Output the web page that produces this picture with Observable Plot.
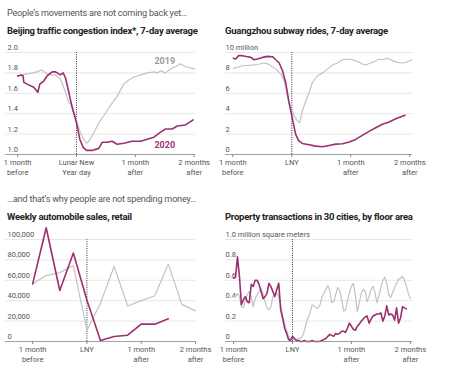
<!DOCTYPE html>
<html><head><meta charset="utf-8">
<script src="https://cdn.jsdelivr.net/npm/d3@7"></script>
<script src="https://cdn.jsdelivr.net/npm/@observablehq/plot@0.6"></script>
<style>
body{margin:0;background:#fff;font-family:Roboto,sans-serif;}
#wrap{position:relative;width:450px;height:373px;overflow:hidden;}
.txt{position:absolute;white-space:nowrap;line-height:1;}
.hdr{font-size:9.1px;color:#555;letter-spacing:-0.2px;}
.ttl{font-size:9.5px;font-weight:bold;color:#222;letter-spacing:-0.25px;}
.pan{position:absolute;}
.pan svg{overflow:visible;}
</style></head><body><div id="wrap"></div>
<script>
// ---------- text ----------
const headers = ["People\u2019s movements are not coming back yet\u2026", "\u2026and that\u2019s why people are not spending money\u2026"];
const titles = ["Beijing traffic congestion index*, 7-day average", "Guangzhou subway rides, 7-day average", "Weekly automobile sales, retail", "Property transactions in 30 cities, by floor area"];
const xLabelsLNYLong = ["1 month\nbefore", "Lunar New\nYear day", "1 month\nafter", "2 months\nafter"];
const xLabelsLNY = ["1 month\nbefore", "LNY", "1 month\nafter", "2 months\nafter"];
const dayTicks = [-30, 0, 30, 60];
const weekTicks = [-4, 0, 4, 8];

// ---------- Beijing traffic congestion index (days from LNY) ----------
const bjDays2019 = [-30,-25.2,-21.8,-17.5,-15.8,-13.3,-10.7,-8.2,-5.6,-3.9,-2.2,0,2,3.7,5.1,6.3,8.8,11.4,13.9,17.3,20.7,24.1,26.7,29.3,32.7,36.1,39.5,41.2,42.9,45.4,48,50.5,53.1,55.6,60.4];
const bjVals2019 = [1.77,1.79,1.80,1.83,1.80,1.78,1.78,1.74,1.61,1.51,1.48,1.34,1.21,1.15,1.11,1.13,1.21,1.31,1.38,1.48,1.57,1.69,1.73,1.76,1.78,1.80,1.81,1.80,1.82,1.80,1.84,1.86,1.89,1.86,1.84];
const bjDays2020 = [-30,-28.2,-27.2,-26.9,-25.2,-21.8,-19.7,-18.7,-16.7,-15,-12.4,-10.7,-9,-8.2,-6.8,-5.6,-3.9,-2.2,0,1.7,3.4,5.1,8,11.4,13.1,15.6,18.2,19.9,20.7,24.1,28.4,32.7,36.1,39.5,42.9,45.4,48.8,51.4,55.6,59.5];
const bjVals2020 = [1.77,1.78,1.77,1.71,1.69,1.66,1.61,1.69,1.72,1.77,1.81,1.81,1.79,1.78,1.80,1.75,1.61,1.46,1.31,1.15,1.07,1.04,1.04,1.06,1.12,1.12,1.13,1.11,1.10,1.11,1.13,1.13,1.15,1.17,1.22,1.25,1.25,1.28,1.29,1.34];
const bjYTicks = [1.0, 1.2, 1.4, 1.6, 1.8, 2.0];
const bjYearLabels = [{x: 45, y: 1.92, t: "2019", year: 2019}, {x: 45, y: 1.09, t: "2020", year: 2020}];

// ---------- Guangzhou subway rides, millions ----------
const gzDays2019 = [-29.7,-25.1,-20,-16.6,-14.1,-11.5,-8.1,-5.6,-3.9,-2.2,-1.4,0,1.2,2.9,4.1,5.4,7.1,8.8,10.5,13.1,15.6,18.1,20.7,23.2,25.8,29.2,32.5,35.9,37.6,40.2,41.9,44.4,46.1,48.6,51.2,53.7,57.1,58.8,61];
const gzVals2019 = [8.44,8.70,8.77,8.87,8.97,8.83,8.37,7.88,7.22,5.75,4.93,4.43,3.78,3.28,3.12,4.27,5.25,6.08,7.06,7.72,7.98,8.37,8.77,8.97,9.29,9.36,9.20,8.87,8.77,8.97,9.10,9.36,9.29,9.43,9.20,9.03,8.97,9.10,9.29];
const gzDays2020 = [-29.7,-28.5,-27.1,-25.1,-22.5,-20.8,-19.2,-17.5,-14.9,-12.4,-9.8,-8.1,-6.4,-4.7,-3.1,-1.7,-0.5,0.7,2,3.4,5.4,8.8,12.2,15.6,19,22.4,25.8,29.2,32.5,35.9,39.3,42.7,46.1,49.5,52.9,57.6];
const gzVals2020 = [9.43,9.36,9.69,9.69,9.59,9.52,9.29,9.36,9.52,9.62,9.59,9.29,8.97,8.21,7.06,5.42,4.27,3.12,1.97,1.38,1.08,0.95,0.82,0.76,0.89,1.02,1.05,1.22,1.48,1.87,2.27,2.63,2.96,3.19,3.51,3.84];
const gzYTicks = [0, 2, 4, 6, 8, 10];

// ---------- Weekly automobile sales (weeks from LNY) ----------
const carWeeks2019 = [-4,-3,-2,-1,0,1,2,3,4,5,6,7,8];
const carVals2019 = [56500,64600,67500,74500,11000,37600,73600,34800,40100,44900,75900,36400,30000];
const carWeeks2020 = [-4,-3,-2,-1,0,1,2,3,4,5,6];
const carVals2020 = [56500,111500,50000,86700,40500,1000,4900,6200,17000,17000,22200];
const carYTicks = [0, 20000, 40000, 60000, 80000, 100000];

// ---------- Property transactions, million sq m (daily from LNY) ----------
const propStartDay = -30;
const propVals2019 = [0.44,0.44,0.47,0.44,0.34,0.33,0.41,0.46,0.49,0.44,0.34,0.42,0.46,0.49,0.52,0.47,0.39,0.33,0.31,0.34,0.44,0.46,0.47,0.44,0.36,0.25,0.18,0.11,0.05,0.02,
  0.02,0.02,0.02,0.03,0.03,0.05,0.10,0.18,0.24,0.28,0.36,0.35,0.33,0.33,0.36,0.44,0.47,0.51,0.55,0.50,0.38,0.39,0.46,0.53,0.50,0.42,0.30,0.31,0.40,0.48,0.54,0.57,0.46,0.29,0.38,0.47,0.51,0.49,0.39,0.44,0.51,0.54,0.48,0.38,0.45,0.53,0.60,0.63,0.57,0.46,0.43,0.48,0.53,0.57,0.61,0.62,0.64,0.60,0.54,0.47,0.42];
const propVals2020 = [0.62,0.63,0.83,0.64,0.36,0.41,0.44,0.39,0.38,0.56,0.54,0.60,0.60,0.56,0.49,0.42,0.44,0.47,0.57,0.54,0.49,0.44,0.51,0.57,0.31,0.23,0.13,0.08,0.02,0.01,
  0.05,0.03,0.01,0.01,0.0,0.0,0.01,0.0,0.0,0.0,0.01,0.0,0.0,0.0,0.0,0.01,0.02,0.03,0.05,0.07,0.06,0.05,0.08,0.07,0.08,0.10,0.10,0.09,0.13,0.18,0.15,0.12,0.11,0.15,0.17,0.20,0.22,0.24,0.25,0.18,0.22,0.25,0.26,0.27,0.27,0.28,0.20,0.25,0.35,0.26,0.27,0.26,0.21,0.33,0.18,0.23,0.34,0.33,0.32];
const propYTicks = [0, 0.2, 0.4, 0.6, 0.8, 1.0];

// ---------- styles ----------
const C2019 = "#c3c3c3";
const C2020 = "#9c2f6f";

const wrap = document.getElementById("wrap");
function addText(cls, text, left, top) {
  const d = document.createElement("div");
  d.className = "txt " + cls;
  d.textContent = text;
  d.style.left = left + "px";
  d.style.top = top + "px";
  wrap.appendChild(d);
}
addText("hdr", headers[0], 7, 9);
addText("ttl", titles[0], 7, 26);
addText("ttl", titles[1], 225, 26);
addText("hdr", headers[1], 7, 195);
addText("ttl", titles[2], 7, 212);
addText("ttl", titles[3], 225, 212);

function zip(xs, ys, year) { return xs.map((x, i) => ({x, y: ys[i], year})); }

function panel({left, top, width, marginLeft, marginRight, xDomain, xTicks, xLabels, yDomain, yTicks, yFmt, s2019, s2020, labelDx, extra = []}) {
  const xLab = new Map(xTicks.map((t, i) => [t, xLabels[i]]));
  const chart = Plot.plot({
    width, height: 140,
    marginTop: 12, marginBottom: 26, marginLeft, marginRight,
    style: {fontFamily: "Roboto, sans-serif", fontSize: "7.5px", background: "transparent", overflow: "visible"},
    x: {domain: xDomain, axis: null, label: null},
    y: {domain: yDomain, axis: null, label: null},
    marks: [
      Plot.gridY(yTicks.slice(1), {stroke: "#dcdcdc", strokeOpacity: 1, strokeWidth: 0.7}),
      Plot.axisY(yTicks, {anchor: "left", label: null, tickSize: 0, tickPadding: 0, dx: labelDx, dy: -5, textAnchor: "start", tickFormat: yFmt, fill: "#555", fontSize: 7.5}),
      Plot.ruleX([0], {y1: yDomain[0], y2: yDomain[1], stroke: "#333", strokeWidth: 1, strokeDasharray: "1,1.3"}),
      Plot.line(s2019, {x: "x", y: "y", stroke: C2019, strokeWidth: 1.2}),
      Plot.line(s2020, {x: "x", y: "y", stroke: C2020, strokeWidth: 1.6}),
      Plot.ruleY([yDomain[0]], {stroke: "#8a8a8a", strokeWidth: 0.8}),
      Plot.axisX(xTicks, {anchor: "bottom", label: null, tickSize: 3, tickPadding: 1, tickFormat: d => xLab.get(d), fill: "#555", stroke: "#8a8a8a", fontSize: 7.5, lineHeight: 1.3}),
      ...extra
    ]
  });
  const holder = document.createElement("div");
  holder.className = "pan";
  holder.style.left = left + "px";
  holder.style.top = top + "px";
  holder.appendChild(chart);
  wrap.appendChild(holder);
}

// Beijing
panel({
  left: 0, top: 40, width: 200, marginLeft: 5, marginRight: 5,
  xDomain: [-36.2, 60.7], xTicks: dayTicks, xLabels: xLabelsLNYLong,
  yDomain: [1.0, 2.0], yTicks: bjYTicks, yFmt: d3.format(".1f"),
  s2019: zip(bjDays2019, bjVals2019, 2019), s2020: zip(bjDays2020, bjVals2020, 2020), labelDx: 2,
  extra: [Plot.text(bjYearLabels, {x: "x", y: "y", text: "t", fill: d => d.year === 2019 ? "#999" : C2020, fontWeight: "bold", fontSize: 9})]
});
// Guangzhou
panel({
  left: 222, top: 40, width: 195, marginLeft: 3, marginRight: 5,
  xDomain: [-33.7, 61.4], xTicks: dayTicks, xLabels: xLabelsLNY,
  yDomain: [0, 10], yTicks: gzYTicks, yFmt: d => d === 10 ? "10 million" : String(d),
  s2019: zip(gzDays2019, gzVals2019, 2019), s2020: zip(gzDays2020, gzVals2020, 2020), labelDx: 0
});
// Cars
panel({
  left: 0, top: 227, width: 200, marginLeft: 5, marginRight: 5,
  xDomain: [-6, 8], xTicks: weekTicks, xLabels: xLabelsLNY,
  yDomain: [0, 100000], yTicks: carYTicks, yFmt: d3.format(","),
  s2019: zip(carWeeks2019, carVals2019, 2019), s2020: zip(carWeeks2020, carVals2020, 2020), labelDx: 2
});
// Property
panel({
  left: 222, top: 227, width: 195, marginLeft: 3, marginRight: 5,
  xDomain: [-34.1, 61.1], xTicks: dayTicks, xLabels: xLabelsLNY,
  yDomain: [0, 1.0], yTicks: propYTicks, yFmt: d => d === 1 ? "1.0 million square meters" : (d === 0 ? "0" : d3.format(".1f")(d)),
  s2019: propVals2019.map((v, i) => ({x: propStartDay + i, y: v})),
  s2020: propVals2020.map((v, i) => ({x: propStartDay + i, y: v})), labelDx: 0
});
</script>
</body></html>
